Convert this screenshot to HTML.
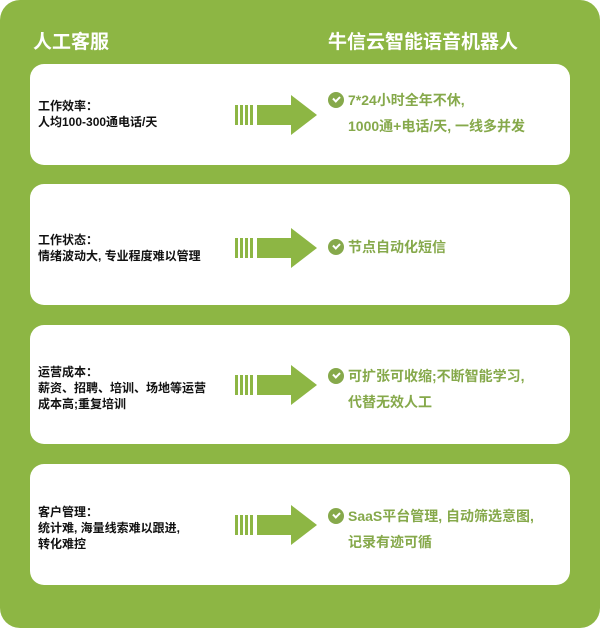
<!DOCTYPE html>
<html><head><meta charset="utf-8"><style>
body{margin:0;width:600px;height:628px;background:#fff;overflow:hidden;font-family:"Liberation Sans","Noto Sans CJK SC",sans-serif}
.bg{position:absolute;left:0;top:0;width:600px;height:628px;background:#8db644;border-radius:20px}
h1{position:absolute;margin:0;font-size:19px;color:#fff;font-weight:bold;top:27px}
.card{position:absolute;left:30px;width:540px;background:#fff;border-radius:14px}
.l{position:absolute;left:8px;font-size:12px;font-weight:bold;color:#111;line-height:16px;transform:translateY(-50%)}
.r{position:absolute;left:298px;font-size:14px;font-weight:bold;color:#86a94b;line-height:26px;transform:translateY(-50%)}
.r .row{position:relative;padding-left:20px}
.ck{position:absolute;left:0;top:5px;width:16px;height:16px;border-radius:50%;background:#86a94b}
.ck:after{content:"";position:absolute;left:5px;top:4px;width:5px;height:3px;border-left:2px solid #fff;border-bottom:2px solid #fff;transform:rotate(-45deg)}
svg{position:absolute;left:205px}
</style></head><body>
<div class="bg"></div>
<h1 style="left:33px">人工客服</h1>
<h1 style="left:328px">牛信云智能语音机器人</h1>

<div class="card" style="top:64px;height:101px">
<div class="l" style="top:50px">工作效率：<br>人均100-300通电话/天</div>
<svg style="top:30px" width="90" height="42" viewBox="0 0 90 42"><g fill="#8db644"><rect x="0" y="11" width="3" height="20"/><rect x="5" y="11" width="3" height="20"/><rect x="10" y="11" width="3" height="20"/><rect x="15" y="11" width="3" height="20"/><rect x="22" y="11" width="36" height="20"/><polygon points="56,1 82,21 56,41"/></g></svg>
<div class="r" style="top:49px"><div class="row"><span class="ck"></span>7*24小时全年不休,</div><div class="row">1000通+电话/天, 一线多并发</div></div>
</div>

<div class="card" style="top:184px;height:121px">
<div class="l" style="top:64px">工作状态：<br>情绪波动大, 专业程度难以管理</div>
<svg style="top:43px" width="90" height="42" viewBox="0 0 90 42"><g fill="#8db644"><rect x="0" y="11" width="3" height="20"/><rect x="5" y="11" width="3" height="20"/><rect x="10" y="11" width="3" height="20"/><rect x="15" y="11" width="3" height="20"/><rect x="22" y="11" width="36" height="20"/><polygon points="56,1 82,21 56,41"/></g></svg>
<div class="r" style="top:63px"><div class="row"><span class="ck"></span>节点自动化短信</div></div>
</div>

<div class="card" style="top:325px;height:119px">
<div class="l" style="top:63px">运营成本：<br>薪资、招聘、培训、场地等运营<br>成本高;重复培训</div>
<svg style="top:39px" width="90" height="42" viewBox="0 0 90 42"><g fill="#8db644"><rect x="0" y="11" width="3" height="20"/><rect x="5" y="11" width="3" height="20"/><rect x="10" y="11" width="3" height="20"/><rect x="15" y="11" width="3" height="20"/><rect x="22" y="11" width="36" height="20"/><polygon points="56,1 82,21 56,41"/></g></svg>
<div class="r" style="top:64px"><div class="row"><span class="ck"></span>可扩张可收缩;不断智能学习,</div><div class="row">代替无效人工</div></div>
</div>

<div class="card" style="top:464px;height:121px">
<div class="l" style="top:64px">客户管理：<br>统计难, 海量线索难以跟进,<br>转化难控</div>
<svg style="top:40px" width="90" height="42" viewBox="0 0 90 42"><g fill="#8db644"><rect x="0" y="11" width="3" height="20"/><rect x="5" y="11" width="3" height="20"/><rect x="10" y="11" width="3" height="20"/><rect x="15" y="11" width="3" height="20"/><rect x="22" y="11" width="36" height="20"/><polygon points="56,1 82,21 56,41"/></g></svg>
<div class="r" style="top:65px"><div class="row"><span class="ck"></span>SaaS平台管理, 自动筛选意图,</div><div class="row">记录有迹可循</div></div>
</div>
</body></html>
